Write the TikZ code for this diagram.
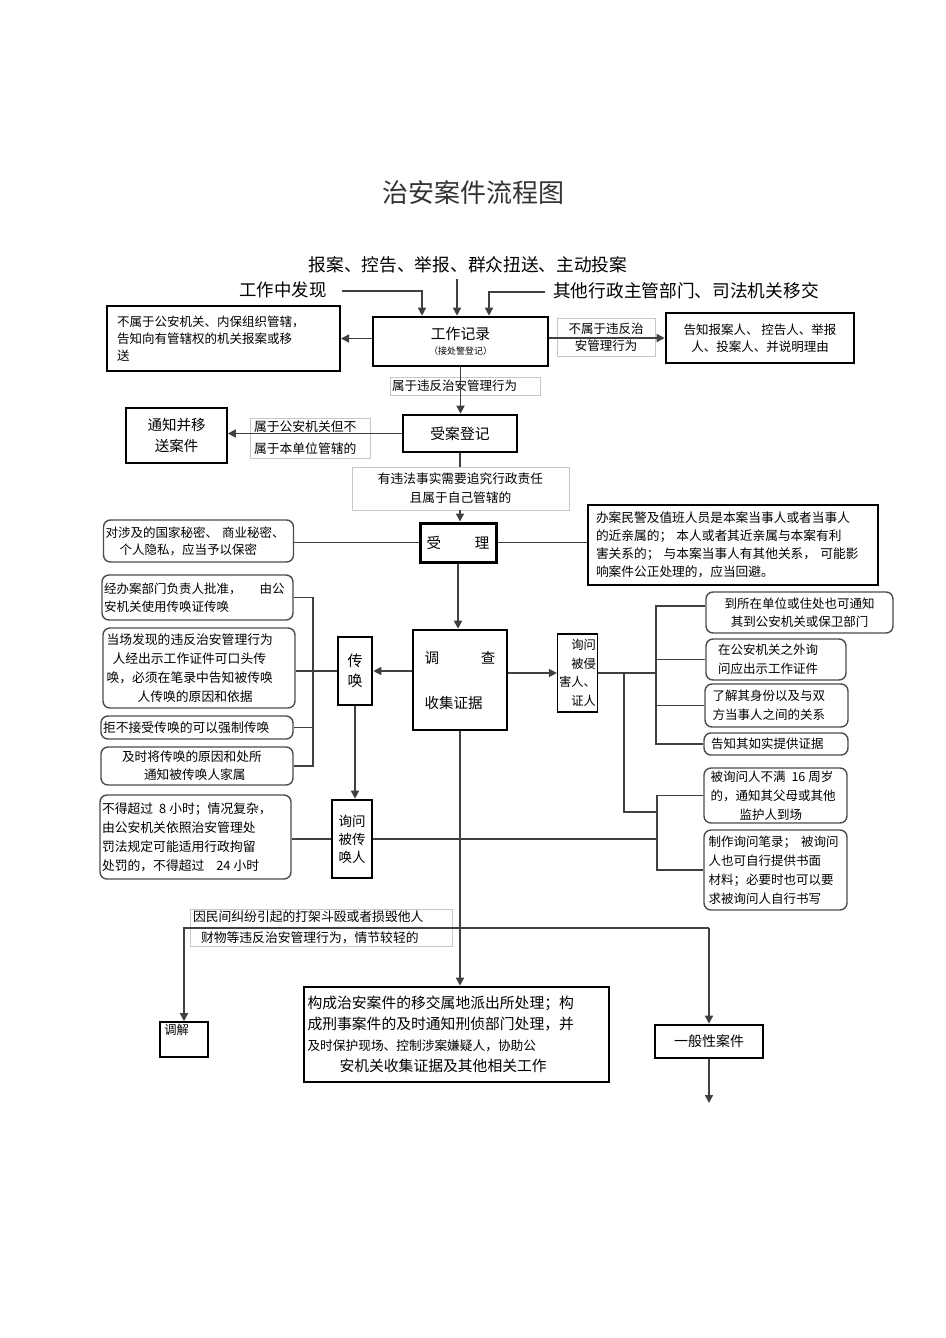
\documentclass[tikz,border=0pt]{standalone}
\usepackage{fontspec}
\setmainfont{Noto Sans CJK SC}
\usetikzlibrary{arrows.meta}

\begin{document}
\begin{tikzpicture}[x=1pt,y=-1pt,
  >={Triangle[length=8pt,width=8pt]},
  sz/.style 2 args={minimum width=#1pt,minimum height=#2pt},
  ln/.style={draw=black!75,line width=1.5pt},
  box/.style={draw,line width=1.6pt,inner sep=2pt,font=\fontsize{12.5}{17}\selectfont},
  bbox/.style={box,line width=2.6pt},
  rbox/.style={box,draw=black!70,rounded corners=7pt,line width=1.4pt},
  tag/.style={draw=black!22,line width=0.8pt,inner sep=2pt,font=\fontsize{12.5}{17}\selectfont}]
  \useasboundingbox (0,0) rectangle (945,1338);

  % heading and sources
  \node[font=\fontsize{26}{26}\selectfont,text=black!80] (title) at (473,193) {治安案件流程图};
  \node[font=\fontsize{17.7}{18}\selectfont] (src) at (468,265) {报案、控告、举报、群众扭送、主动投案};
  \node[font=\fontsize{17.4}{18}\selectfont] (find) at (283,290) {工作中发现};
  \node[font=\fontsize{17.7}{18}\selectfont] (other) at (686,291) {其他行政主管部门、司法机关移交};
  \coordinate (f1) at (342,291);
  \coordinate (f2) at (457,279);
  \coordinate (f3) at (545,292);

  % upper part
  \node[bbox,sz={175}{49},align=center,font=\fontsize{14.8}{15}\selectfont] (gzjl) at (460.5,341.5)
       {工作记录\\{\fontsize{9}{10}\selectfont （接处警登记）}};
  \node[box,line width=2pt,sz={233}{65},align=left,text width=213pt] (notps) at (223.5,338.5)
       {不属于公安机关、内保组织管辖，\\告知向有管辖权的机关报案或移\\送};
  \node[bbox,sz={188}{50},align=center] (tellbox) at (760,338)
       {告知报案人、 控告人、举报\\人、投案人、并说明理由};
  \node[tag,sz={98}{38},align=center] (lbl1) at (606,337) {不属于违反治\\安管理行为};
  \node[tag,sz={150}{18},align=left,text width=146pt] (lbl2) at (465,386) {属于违反治安管理行为};
  \node[bbox,sz={114}{37},font=\fontsize{14.8}{16}\selectfont] (sadj) at (460,433.5) {受案登记};
  \node[box,sz={101}{55},align=center,font=\fontsize{14.5}{21}\selectfont] (tzys) at (176.5,435.5)
       {通知并移\\送案件};
  \node[tag,sz={120}{40},align=left,text width=112pt,font=\fontsize{12.8}{22}\selectfont] (lbl3) at (310,438)
       {属于公安机关但不\\属于本单位管辖的};
  \node[tag,fill=white,sz={217}{43},align=center,font=\fontsize{12.7}{19}\selectfont] (lbl4) at (460.5,488.5)
       {有违法事实需要追究行政责任\\且属于自己管辖的};

  % accepting
  \node[bbox,line width=3pt,sz={76}{39},font=\fontsize{14.5}{16}\selectfont] (sl) at (458,542.5) {受\hspace{34pt}理};
  \node[rbox,sz={189}{42},align=left,text width=186pt] (secret) at (198.5,541)
       {对涉及的国家秘密、 商业秘密、\\\hspace{14pt}个人隐私，应当予以保密};
  \node[box,sz={290}{80},align=left,text width=274pt,font=\fontsize{12.7}{18}\selectfont] (avoid) at (733,545)
       {办案民警及值班人员是本案当事人或者当事人\\的近亲属的； 本人或者其近亲属与本案有利\\害关系的； 与本案当事人有其他关系， 可能影\\响案件公正处理的，应当回避。};

  % investigation
  \node[bbox,sz={94}{100},align=left,font=\fontsize{14.5}{16}\selectfont] (dc) at (460,680)
       {调\hspace{42pt}查\\[29pt]收集证据};
  \node[bbox,sz={34}{68},align=center,inner sep=1pt,font=\fontsize{15}{20}\selectfont] (ch) at (355,671) {传\\唤};
  \node[rbox,sz={189}{45},align=left,text width=187pt,font=\fontsize{12.5}{18}\selectfont] (c1) at (197.5,597.5)
       {经办案部门负责人批准，\hspace{18pt}由公\\安机关使用传唤证传唤};
  \node[rbox,sz={192}{80},align=left,text width=185pt,font=\fontsize{12.8}{19}\selectfont] (c2) at (199,668)
       {当场发现的违反治安管理行为\\\hspace{6pt}人经出示工作证件可口头传\\唤，必须在笔录中告知被传唤\\\hspace{31pt}人传唤的原因和依据};
  \node[rbox,sz={192}{23},align=left,text width=188pt,font=\fontsize{12.8}{17}\selectfont] (c3) at (197,727.5)
       {拒不接受传唤的可以强制传唤};
  \node[rbox,sz={192}{38},align=left,text width=180pt,font=\fontsize{12.7}{18}\selectfont] (c4) at (197,766)
       {\hspace{15pt}及时将传唤的原因和处所\\\hspace{37pt}通知被传唤人家属};
  \node[box,line width=1.3pt,sz={39}{78},align=right,inner sep=1.5pt,font=\fontsize{12.3}{18.5}\selectfont] (xw) at (577.5,673)
       {询问\\被侵\\害人、\\证人};
  \node[rbox,sz={187}{41},align=center,font=\fontsize{12.5}{18}\selectfont] (A) at (799.5,612.5)
       {到所在单位或住处也可通知\\其到公安机关或保卫部门};
  \node[rbox,sz={140}{41},align=left,text width=116pt,font=\fontsize{12.5}{19}\selectfont] (B) at (776,659.5)
       {在公安机关之外询\\问应出示工作证件};
  \node[rbox,sz={143}{43},align=left,text width=128pt,font=\fontsize{12.5}{19}\selectfont] (C) at (776.5,705.5)
       {了解其身份以及与双\\方当事人之间的关系};
  \node[rbox,sz={144}{22},align=left,text width=130pt] (D) at (776,744) {告知其如实提供证据};
  \node[rbox,sz={143}{55},align=left,text width=130pt,font=\fontsize{12.5}{19}\selectfont] (E) at (775.5,795.5)
       {被询问人不满\hspace{6pt}16\hspace{3pt}周岁\\的，通知其父母或其他\\\hspace{29pt}监护人到场};
  \node[rbox,sz={143}{80},align=left,text width=134pt,font=\fontsize{12.5}{19}\selectfont] (F) at (775.5,870)
       {制作询问笔录；\hspace{5pt}被询问\\人也可自行提供书面\\材料；必要时也可以要\\求被询问人自行书写};
  \node[bbox,sz={40}{78},align=center,font=\fontsize{13.5}{18}\selectfont] (xwc) at (352,839) {询问\\被传\\唤人};
  \node[rbox,sz={191}{84},align=left,text width=187pt,font=\fontsize{12.8}{19}\selectfont] (lim) at (195.5,837)
       {不得超过\hspace{6pt}8\hspace{3pt}小时；情况复杂，\\由公安机关依照治安管理处\\罚法规定可能适用行政拘留\\处罚的，不得超过\hspace{12pt}24\hspace{3pt}小时};

  % outcomes
  \node[tag,sz={262}{37},align=left,text width=256pt,font=\fontsize{12.8}{21}\selectfont] (lbl5) at (321,927.5)
       {因民间纠纷引起的打架斗殴或者损毁他人\\\hspace{8pt}财物等违反治安管理行为，情节较轻的};
  \node[box,sz={48}{35},label={[anchor=north west,inner sep=0pt,xshift=5pt,yshift=-3pt,font=\fontsize{12.3}{13}\selectfont]north west:调解}] (tj) at (184,1039.5) {};
  \node[bbox,sz={305}{95},align=left,text width=298pt,font=\fontsize{14.8}{21}\selectfont] (big) at (456.5,1034.5)
       {构成治安案件的移交属地派出所处理；构\\成刑事案件的及时通知刑侦部门处理，并\\{\fontsize{12.7}{21}\selectfont 及时保护现场、控制涉案嫌疑人，协助公}\\\hspace{32pt}安机关收集证据及其他相关工作};
  \node[bbox,sz={108}{33},font=\fontsize{14}{16}\selectfont] (gen) at (709,1041.5) {一般性案件};

  \coordinate (bk) at (313,0);
  \coordinate (bk2) at (656,0);
  \coordinate (bk3) at (624,0);
  \coordinate (bk4) at (657,0);
  \coordinate (lo) at (657,812);
  \coordinate (mj) at (0,928);
  \coordinate (endp) at (0,1103);

  % connectors
  \draw[ln,->] (f1) -| ([xshift=-38.5pt]gzjl.north);
  \draw[ln,->] (f2) -- ([xshift=-3.5pt]gzjl.north);
  \draw[ln,->] (f3) -| ([xshift=28.5pt]gzjl.north);
  \draw[ln,->] (gzjl.west |- notps.east) -- (notps.east);
  \draw[ln,->] (gzjl.east |- tellbox.west) -- (tellbox.west);
  \draw[ln,->] (gzjl.south) -- (gzjl.south |- sadj.north);
  \draw[ln,->] (sadj.west) -- (sadj.west -| tzys.east);
  \draw[ln] (sadj.south) -- (sadj.south |- lbl4.north);
  \draw[ln,->] (sadj.south |- lbl4.south) -- (sadj.south |- sl.north);
  \draw[ln] (sl.west) -- (sl.west -| secret.east);
  \draw[ln] (sl.east) -- (sl.east -| avoid.west);
  \draw[ln,->] (sl.south) -- (sl.south |- dc.north);
  \draw[ln,->] (dc.west |- ch.east) -- (ch.east);
  \draw[ln] (ch.west) -- (ch.west -| c2.east);
  \draw[ln] (c1.east) -- (c1.east -| bk) -- (c4.east -| bk) -- (c4.east);
  \draw[ln] (c3.east) -- (c3.east -| bk);
  \draw[ln,->] (ch.south) -- (ch.south |- xwc.north);
  \draw[ln] (xwc.west) -- (xwc.west -| lim.east);
  \draw[ln,->] (dc.east |- xw.west) -- (xw.west);
  \draw[ln] (xw.east) -- (xw.east -| bk2);
  \draw[ln] ([yshift=6.5pt]A.west) -| (D.west -| bk2) -- (D.west);
  \draw[ln] (B.west) -- (B.west -| bk2);
  \draw[ln] (C.west) -- (C.west -| bk2);
  \draw[ln] (xw.east -| bk3) |- (lo);
  \draw[ln] (E.west) -| (F.west -| bk4) -- (F.west);
  \draw[ln] (xwc.east) -- (xwc.east -| bk4);
  \draw[ln,->] (dc.south) -- (dc.south |- big.north);
  \draw[ln,->] (gen.north |- mj) -| (tj.north);
  \draw[ln,->] (gen.north |- mj) -- (gen.north);
  \draw[ln,->] (gen.south) -- (gen.south |- endp);
\end{tikzpicture}
\end{document}
